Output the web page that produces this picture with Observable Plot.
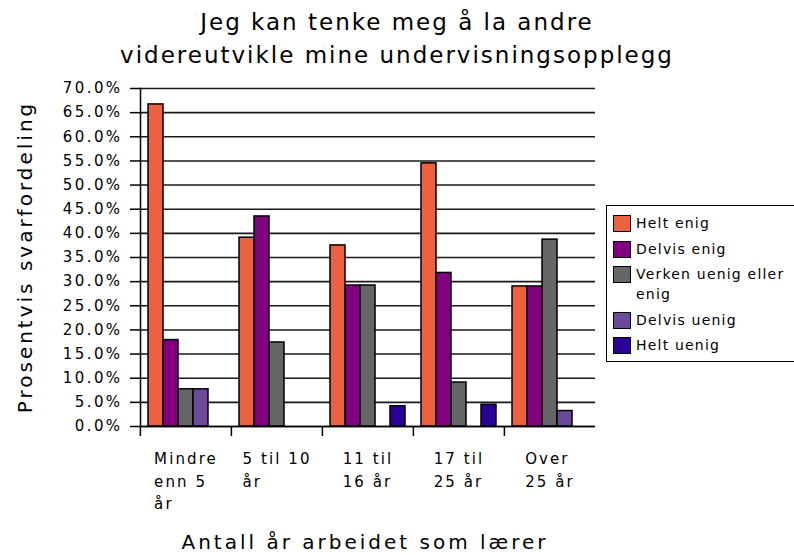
<!DOCTYPE html>
<html><head><meta charset="utf-8">
<script src="https://cdn.jsdelivr.net/npm/d3@7"></script>
<script src="https://cdn.jsdelivr.net/npm/@observablehq/plot@0.6"></script>
<style>
body{margin:0;background:#fff;font-family:"DejaVu Sans",sans-serif;color:#000;}
#wrap{position:relative;width:794px;height:555px;overflow:hidden;background:#fff;}
#chart{position:absolute;left:0;top:0;}
#title{position:absolute;left:0;width:794px;top:6px;text-align:center;font-size:23px;line-height:33px;letter-spacing:2px;}
#ylab{position:absolute;left:25px;top:257px;transform:translate(-50%,-50%) rotate(-90deg);font-size:20px;letter-spacing:3px;white-space:nowrap;}
#xlab{position:absolute;left:365px;top:542px;transform:translate(-50%,-50%);font-size:20px;letter-spacing:3px;white-space:nowrap;}
#legend{position:absolute;left:606px;top:205px;width:200px;height:157px;border:1.5px solid #000;box-sizing:border-box;padding-top:7px;font-size:14px;letter-spacing:1.2px;}
.item{position:relative;padding-left:29px;line-height:20px;margin-bottom:5.5px;max-width:160px;}
.sw{position:absolute;left:6px;top:2px;width:16px;height:15px;border:1px solid #000;}
.ytick text{letter-spacing:2.4px;}
.fxlab text{letter-spacing:2.1px;}
</style></head><body>
<div id="wrap">
  <div id="chart"></div>
  <div id="title">Jeg kan tenke meg å la andre<br>videreutvikle mine undervisningsopplegg</div>
  <div id="ylab">Prosentvis svarfordeling</div>
  <div id="xlab">Antall år arbeidet som lærer</div>
  <div id="legend"></div>
</div>
<script>
const groups = ["Mindre enn 5 år", "5 til 10 år", "11 til 16 år", "17 til 25 år", "Over 25 år"];
const groupLabels = ["Mindre\nenn 5\når", "5 til 10\når", "11 til\n16 år", "17 til\n25 år", "Over\n25 år"];
const series = ["Helt enig", "Delvis enig", "Verken uenig eller enig", "Delvis uenig", "Helt uenig"];
const colors = ["#ec6240", "#800080", "#666666", "#6b4a9b", "#2a0099"];
const heltEnig    = [66.7, 39.1, 37.5, 54.5, 29.0];
const delvisEnig  = [17.9, 43.5, 29.2, 31.8, 29.0];
const verken      = [7.7, 17.4, 29.2, 9.1, 38.7];
const delvisUenig = [7.7, 0, 0, 0, 3.2];
const heltUenig   = [0, 0, 4.2, 4.5, 0];
const yTicks = [0, 5, 10, 15, 20, 25, 30, 35, 40, 45, 50, 55, 60, 65, 70];

const seriesValues = [heltEnig, delvisEnig, verken, delvisUenig, heltUenig];
const data = [];
series.forEach((s, si) => groups.forEach((g, gi) => {
  const v = seriesValues[si][gi];
  if (v > 0) data.push({group: g, series: s, value: v});
}));

const W = 794, H = 555, ML = 139, MR = 199, MT = 88, MB = 129;
const step = (W - ML - MR) / groups.length;

const plot = Plot.plot({
  width: W, height: H,
  marginLeft: ML, marginRight: MR, marginTop: MT, marginBottom: MB,
  style: {fontFamily: "DejaVu Sans", fontSize: "15px", color: "#000", background: "transparent", overflow: "visible"},
  fx: {domain: groups, padding: 0, label: null},
  x: {domain: series, paddingInner: 0, paddingOuter: 0.42, axis: null},
  y: {domain: [0, 70], label: null},
  color: {domain: series, range: colors},
  marks: [
    Plot.gridY(yTicks, {stroke: "#1a1a1a", strokeOpacity: 1, strokeWidth: 1.6}),
    Plot.barY(data, {fx: "group", x: "series", y: "value", fill: "series", stroke: "#000", strokeWidth: 1.5}),
    Plot.ruleY([0], {stroke: "#000", strokeWidth: 1.6}),
    Plot.frame({anchor: "left", facetAnchor: "left", stroke: "#000", strokeWidth: 1.5}),
    Plot.axisY(yTicks, {tickSize: 10, tickPadding: 8, tickFormat: d => d.toFixed(1) + "%", stroke: "#000", strokeWidth: 1.5, fill: "#000", className: "ytick"}),
    Plot.axisFx({anchor: "bottom", tickSize: 10, tickFormat: null, dx: -step / 2, stroke: "#000", strokeWidth: 1.5}),
    Plot.axisFx({anchor: "bottom", tickSize: 0, tickPadding: 22, tickFormat: d => groupLabels[groups.indexOf(d)], textAnchor: "start", lineHeight: 1.5, fill: "#000", className: "fxlab"})
  ]
});
document.getElementById("chart").appendChild(plot);

// center each wrapped, left-aligned label block under its band
plot.querySelectorAll('[aria-label="fx-axis tick label"] text').forEach(t => {
  const w = t.getBBox().width;
  const tr = t.getAttribute("transform") || "";
  t.setAttribute("transform", tr + ` translate(${-w / 2},0)`);
});

const legend = document.getElementById("legend");
series.forEach((s, i) => {
  const it = document.createElement("div");
  it.className = "item";
  const sw = document.createElement("span");
  sw.className = "sw";
  sw.style.background = colors[i];
  it.appendChild(sw);
  it.appendChild(document.createTextNode(s));
  legend.appendChild(it);
});
</script>
</body></html>
